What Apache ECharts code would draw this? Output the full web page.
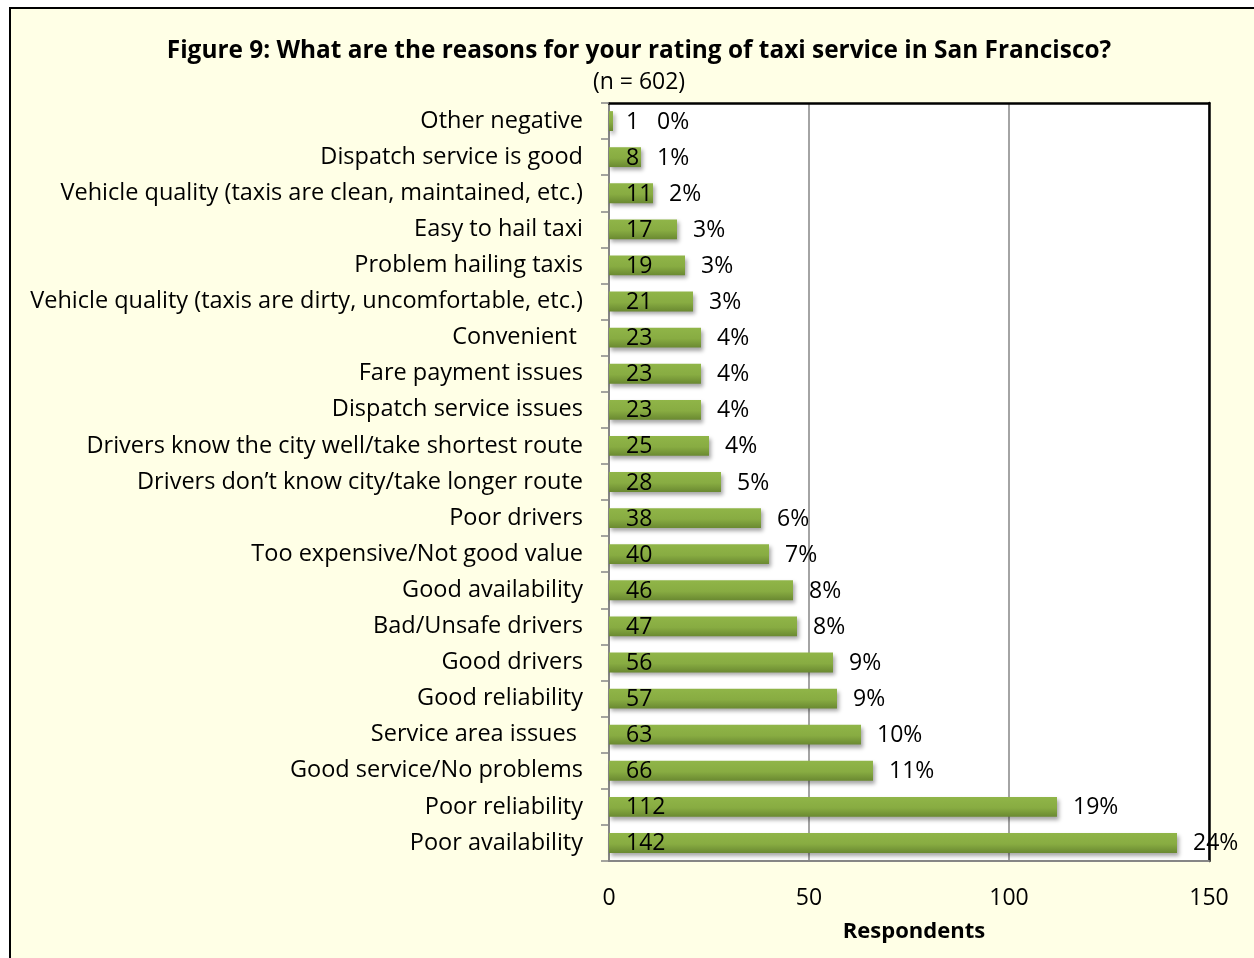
<!DOCTYPE html>
<html>
<head>
<meta charset="utf-8">
<script src="https://cdn.jsdelivr.net/npm/echarts@6/dist/echarts.min.js"></script>
<style>
  html, body { margin: 0; padding: 0; background: #fff; }
  #frame { position: absolute; left: 9px; top: 7px; width: 1300px; height: 1000px;
           border: 2px solid #000; background: #FFFFE6; }
  #main { position: absolute; left: 0; top: 0; width: 1254px; height: 958px; }
</style>
</head>
<body>
<div id="frame"></div>
<div id="main"></div>
<script>
// reasons, top to bottom as in the figure
var reasons = [
  'Other negative',
  'Dispatch service is good',
  'Vehicle quality (taxis are clean, maintained, etc.)',
  'Easy to hail taxi',
  'Problem hailing taxis',
  'Vehicle quality (taxis are dirty, uncomfortable, etc.)',
  'Convenient ',
  'Fare payment issues',
  'Dispatch service issues',
  'Drivers know the city well/take shortest route',
  'Drivers don\u2019t know city/take longer route',
  'Poor drivers',
  'Too expensive/Not good value',
  'Good availability',
  'Bad/Unsafe drivers',
  'Good drivers',
  'Good reliability',
  'Service area issues ',
  'Good service/No problems',
  'Poor reliability',
  'Poor availability'
];
var respondents = [1, 8, 11, 17, 19, 21, 23, 23, 23, 25, 28, 38, 40, 46, 47, 56, 57, 63, 66, 112, 142];
var percents = ['0%', '1%', '2%', '3%', '3%', '3%', '4%', '4%', '4%', '4%', '5%', '6%', '7%', '8%', '8%', '9%', '9%', '10%', '11%', '19%', '24%'];
var xTicks = [0, 50, 100, 150];

var FONT = '"Open Sans"';

var chart = echarts.init(document.getElementById('main'));

// percentage labels sit just past the bar end (Excel pushes them clear of tiny bars)
var pctPoints = respondents.map(function (v, i) {
  return { value: [Math.max(v, 8), reasons[i]], pct: percents[i] };
});

chart.setOption({
  animation: false,
  title: {
    text: 'Figure 9: What are the reasons for your rating of taxi service in San Francisco?',
    subtext: '(n = 602)',
    left: 634,
    textAlign: 'center',
    top: 34,
    itemGap: 8,
    textStyle: { fontFamily: FONT, fontSize: 24.4, fontWeight: 'bold', color: '#000' },
    subtextStyle: { fontFamily: FONT, fontSize: 23, color: '#000' }
  },
  grid: {
    left: 609, top: 103, width: 600, height: 758,
    show: true, backgroundColor: '#fff', borderWidth: 0
  },
  xAxis: [{
    type: 'value',
    min: 0, max: 150, interval: 50,
    name: 'Respondents',
    nameLocation: 'middle',
    nameGap: 60,
    nameTextStyle: { fontFamily: FONT, fontSize: 22, fontWeight: 'bold', color: '#000', padding: [0, 0, 0, 10] },
    axisLine: { show: true, lineStyle: { color: '#868686', width: 2 } },
    axisTick: { show: false },
    axisLabel: {
      fontFamily: FONT, fontSize: 23, color: '#000', margin: 26,
      formatter: function (v) { return xTicks.indexOf(v) >= 0 ? String(v) : ''; }
    },
    splitLine: { show: true, lineStyle: { color: '#868686', width: 1.5 } }
  }, {
    type: 'value', position: 'top', min: 0, max: 150,
    axisLine: { show: true, onZero: false, lineStyle: { color: '#000', width: 2.5 } },
    axisTick: { show: false }, axisLabel: { show: false }, splitLine: { show: false }
  }],
  yAxis: [{
    type: 'category',
    data: reasons,
    inverse: true,
    axisLine: { show: true, lineStyle: { color: '#868686', width: 2 } },
    axisTick: { show: true, length: 8, lineStyle: { color: '#868686', width: 1.5 } },
    axisLabel: { fontFamily: FONT, fontSize: 23.5, color: '#000', margin: 26, padding: [3, 0, 0, 0] }
  }, {
    type: 'category',
    data: reasons,
    inverse: true,
    position: 'right',
    axisLine: { show: true, onZero: false, lineStyle: { color: '#000', width: 2.5 } },
    axisTick: { show: false }, axisLabel: { show: false }
  }],
  series: [{
    type: 'bar',
    data: respondents,
    barWidth: '55%',
    itemStyle: {
      color: new echarts.graphic.LinearGradient(0, 0, 0, 1, [
        { offset: 0, color: '#90B548' },
        { offset: 0.55, color: '#88AC42' },
        { offset: 1, color: '#6A8931' }
      ]),
      shadowColor: 'rgba(0,0,0,0.35)',
      shadowBlur: 4,
      shadowOffsetX: 2,
      shadowOffsetY: 3
    },
    label: {
      show: true,
      position: 'insideLeft',
      offset: [12, 1],
      fontFamily: FONT, fontSize: 23, color: '#000'
    }
  }, {
    type: 'scatter',
    data: pctPoints,
    symbolSize: 0,
    z: 5,
    itemStyle: { opacity: 1, color: 'transparent' },
    label: {
      show: true,
      position: 'right',
      distance: 16,
      offset: [0, 1],
      fontFamily: FONT, fontSize: 23, color: '#000',
      formatter: function (p) { return p.data.pct; }
    },
    silent: true
  }]
});
</script>
</body>
</html>
